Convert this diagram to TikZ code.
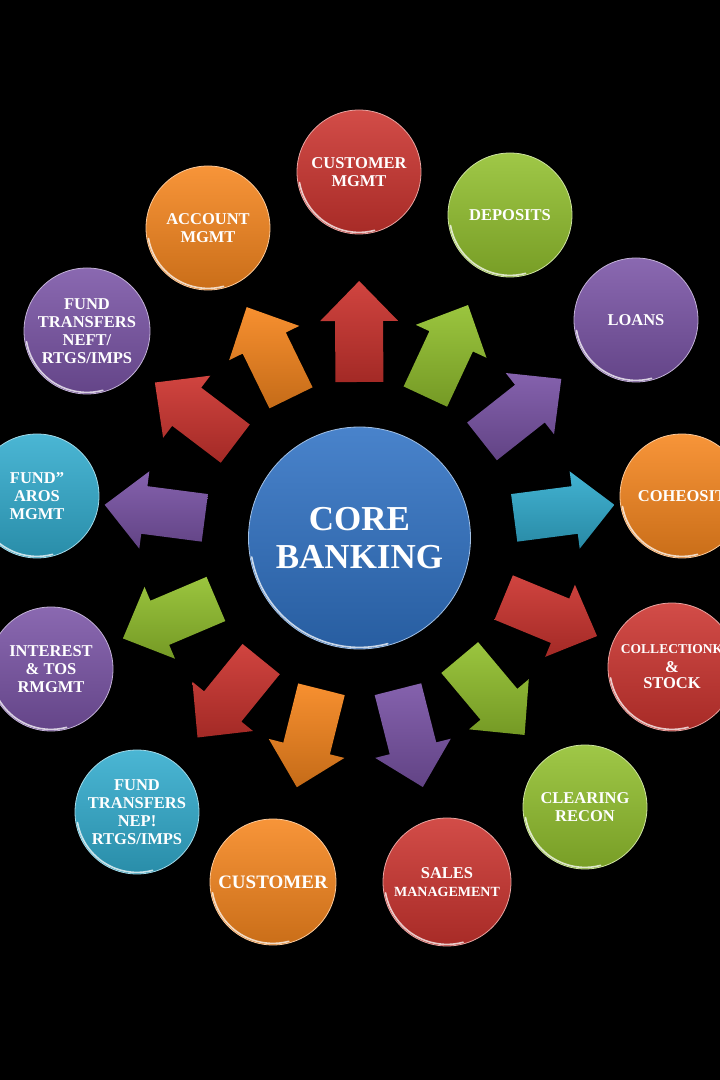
\documentclass[tikz,border=0pt]{standalone}
\usepackage{fontspec}
\setmainfont{Liberation Serif}
\usetikzlibrary{calc,positioning}

\definecolor{cbred}{RGB}{204,52,47}
\definecolor{cborange}{RGB}{246,134,30}
\definecolor{cbgreen}{RGB}{146,192,46}
\definecolor{cbpurple}{RGB}{122,84,166}
\definecolor{cbcyan}{RGB}{50,172,206}
\definecolor{cbblue}{RGB}{48,114,196}

\tikzset{
  topic/.style={circle, minimum size=124pt, inner sep=0pt, align=center,
    text=white, font=\bfseries\fontsize{16.5}{18}\selectfont,
    top color=#1!88!white, bottom color=#1!82!black,
    draw=#1!45!white, line width=0.8pt},
  hub/.style={topic=cbblue, minimum size=222pt,
    font=\bfseries\fontsize{35}{38}\selectfont},
  blockarrow/.style={top color=#1!92!white, bottom color=#1!80!black},
  gloss/.style={white, opacity=0.75, line width=1.6pt, line cap=round}
}

\begin{document}
\begin{tikzpicture}[x=1pt,y=1pt]
  \useasboundingbox (0,0) rectangle (720,1080);
  \fill[black] (0,0) rectangle (720,1080);
  \clip (0,0) rectangle (720,1080);

  % centre
  \node[hub] (core) at (359.5,542) {CORE\\BANKING};

  % ring of topics
  \node[topic=cbred] (cmgmt) at (359,908) {CUSTOMER\\MGMT};
  \node[topic=cbgreen] (deposits) at (510,865) {DEPOSITS};
  \node[topic=cbpurple] (loans) at (636,760) {LOANS};
  \node[topic=cborange] (coheosit) at (682,584) {COHEOSIT};
  \node[topic=cbred, minimum size=128pt] (collection) at (672,413)
    {{\fontsize{13.5}{14}\selectfont COLLECTIONK}\\[1pt]\&\\[-2pt]STOCK};
  \node[topic=cbgreen] (clearing) at (585,273) {CLEARING\\RECON};
  \node[topic=cbred, minimum size=128pt] (sales) at (447,198)
    {SALES\\{\fontsize{14}{16}\selectfont MANAGEMENT}};
  \node[topic=cborange, minimum size=126pt, font=\bfseries\fontsize{19}{20}\selectfont]
    (customer) at (273,198) {CUSTOMER};
  \node[topic=cbcyan] (fundnep) at (137,268) {FUND\\TRANSFERS\\NEP!\\RTGS/IMPS};
  \node[topic=cbpurple] (interest) at (51,411) {INTEREST\\\& TOS\\RMGMT};
  \node[topic=cbcyan] (aros) at (37,584) {FUND"\\AROS\\MGMT};
  \node[topic=cbpurple, minimum size=126pt] (neft) at (87,749)
    {FUND\\TRANSFERS\\NEFT/\\RTGS/IMPS};
  \node[topic=cborange] (account) at (208,852) {ACCOUNT\\MGMT};

  % glossy rim, lower left of every ball
  \foreach \b in {core, cmgmt, deposits, loans, coheosit, collection, clearing,
      sales, customer, fundnep, interest, aros, neft, account}
  {
    \draw[gloss] let \p1=($(\b.east)-(\b.center)$) in
      ([shift={(190:\x1-2pt)}]\b.center)
      arc[start angle=190, end angle=285, radius=\x1-2pt];
  }

  % block arrows from the centre out to each topic
  \foreach \t/\c in {cmgmt/cbred, deposits/cbgreen, loans/cbpurple,
      coheosit/cbcyan, collection/cbred, clearing/cbgreen, sales/cbpurple,
      customer/cborange, fundnep/cbred, interest/cbgreen, aros/cbpurple,
      neft/cbred, account/cborange}
  {
    \shade[blockarrow=\c]
      ($(core.center)!156pt!(\t.center)!24pt!90:(\t.center)$) --
      ($(core.center)!217pt!(\t.center)!24pt!90:(\t.center)$) --
      ($(core.center)!217pt!(\t.center)!39pt!90:(\t.center)$) --
      ($(core.center)!257pt!(\t.center)$) --
      ($(core.center)!217pt!(\t.center)!39pt!-90:(\t.center)$) --
      ($(core.center)!217pt!(\t.center)!24pt!-90:(\t.center)$) --
      ($(core.center)!156pt!(\t.center)!24pt!-90:(\t.center)$) -- cycle;
  }
\end{tikzpicture}
\end{document}
